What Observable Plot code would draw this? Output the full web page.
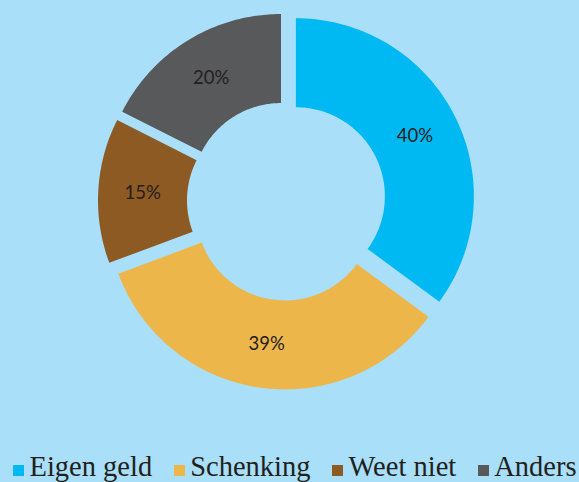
<!DOCTYPE html>
<html>
<head>
<meta charset="utf-8">
<script src="https://cdn.jsdelivr.net/npm/d3@7"></script>
<script src="https://cdn.jsdelivr.net/npm/@observablehq/plot@0.6"></script>
<style>
  html, body { margin: 0; padding: 0; background: #A9DFF9; width: 579px; height: 482px; overflow: hidden; }
  #legend { display: flex; align-items: baseline; height: 32px; line-height: 32px; padding-left: 13px;
            font-family: "Liberation Serif", "DejaVu Serif", serif; font-size: 28.5px; color: #231F20; white-space: nowrap; }
  #legend .item { display: flex; align-items: baseline; margin-right: 21.5px; }
  #legend .sw { display: inline-block; width: 11px; height: 11px; margin-right: 5.5px; }
</style>
</head>
<body>
<div id="chart"></div>
<div id="legend"></div>
<script>
const categories = ["Eigen geld", "Schenking", "Weet niet", "Anders"];
const values = [40, 39, 15, 20];
const labels = ["40%", "39%", "15%", "20%"];
const colors = ["#00B9F2", "#EDB64B", "#8C5A22", "#58595B"];

const W = 579, H = 451;
const cx = 286, cy = 200.5, R = 178;
const inner = 0.5, explode = 0.059, labelR = 0.75;

const pie = d3.pie().sort(null).value(d => d.value).startAngle(0).endAngle(2 * Math.PI);
const data = categories.map((c, i) => ({category: c, value: values[i], label: labels[i]}));
const arcs = pie(data);

const pts = [];
const labelPts = [];
arcs.forEach(a => {
  const mid = (a.startAngle + a.endAngle) / 2;
  const ox = explode * Math.sin(mid), oy = explode * Math.cos(mid);
  const n = 80;
  const ring = [];
  for (let k = 0; k <= n; k++) {
    const t = a.startAngle + (a.endAngle - a.startAngle) * k / n;
    ring.push([Math.sin(t), Math.cos(t)]);
  }
  for (let k = n; k >= 0; k--) {
    const t = a.startAngle + (a.endAngle - a.startAngle) * k / n;
    ring.push([inner * Math.sin(t), inner * Math.cos(t)]);
  }
  ring.push(ring[0]);
  ring.forEach((p, j) => pts.push({category: a.data.category, x: p[0] + ox, y: p[1] + oy, j}));
  labelPts.push({category: a.data.category, label: a.data.label,
    x: labelR * Math.sin(mid) + ox, y: labelR * Math.cos(mid) + oy});
});

const chart = Plot.plot({
  width: W, height: H,
  margin: 0,
  style: {background: "transparent", overflow: "visible"},
  x: {domain: [-1, 1], range: [cx - R, cx + R], axis: null},
  y: {domain: [-1, 1], range: [cy + R, cy - R], axis: null},
  color: {domain: categories, range: colors},
  marks: [
    Plot.line(pts, {x: "x", y: "y", z: "category", fill: "category", stroke: "none", curve: "linear-closed"}),
    Plot.text(labelPts, {x: "x", y: "y", text: "label", fill: "#231F20",
      fontSize: 18.5, fontFamily: "Lato, 'Open Sans', sans-serif"})
  ]
});
document.getElementById("chart").appendChild(chart);

const legend = document.getElementById("legend");
categories.forEach((c, i) => {
  const item = document.createElement("span");
  item.className = "item";
  const sw = document.createElement("span");
  sw.className = "sw";
  sw.style.background = colors[i];
  item.appendChild(sw);
  item.appendChild(document.createTextNode(c));
  legend.appendChild(item);
});
</script>
</body>
</html>
